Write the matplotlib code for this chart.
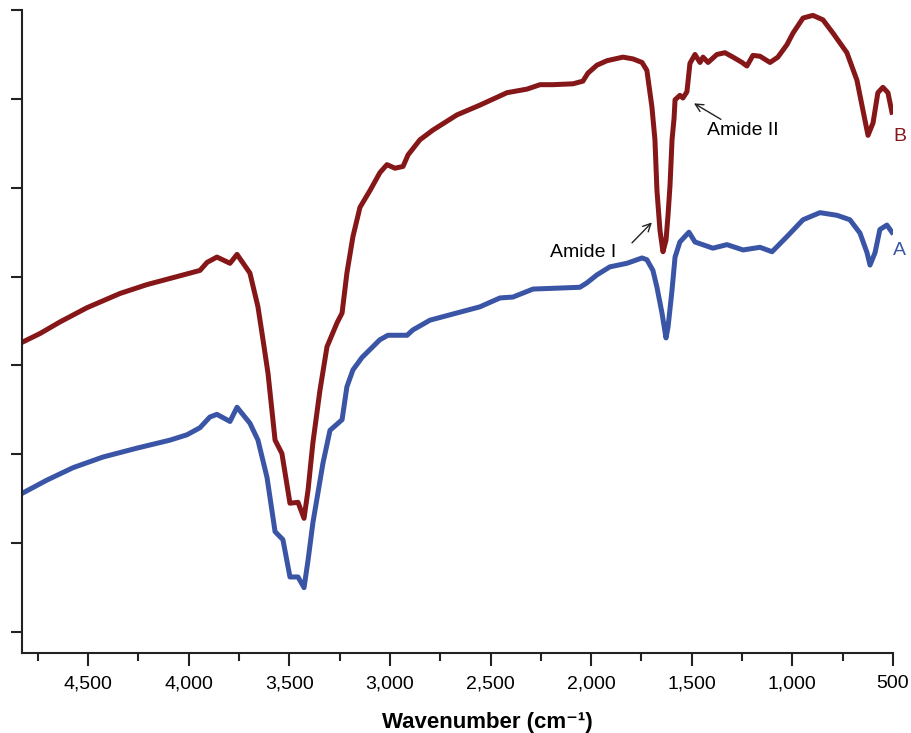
import matplotlib
matplotlib.use("Agg")
import matplotlib.pyplot as plt
from matplotlib.ticker import MultipleLocator, FuncFormatter, NullFormatter

plt.rcParams['font.family'] = ['Liberation Sans', 'DejaVu Sans']

# spectrum B (red, upper)
wn_b = [4829, 4739, 4640, 4506, 4342, 4208, 4059, 3944, 3909, 3860, 3795, 3760,
        3696, 3656, 3631, 3606, 3571, 3537, 3497, 3457, 3427, 3407, 3383, 3348,
        3313, 3263, 3238, 3214, 3184, 3149, 3099, 3050, 3015, 2975, 2935, 2910,
        2851, 2786, 2667, 2553, 2418, 2319, 2254, 2190, 2090, 2041, 2016, 1971,
        1921, 1842, 1792, 1747, 1723, 1698, 1683, 1673, 1658, 1643, 1628, 1618,
        1608, 1598, 1588, 1583, 1559, 1544, 1524, 1509, 1484, 1459, 1444, 1419,
        1375, 1335, 1295, 1250, 1226, 1196, 1161, 1111, 1072, 1027, 997, 947,
        898, 848, 798, 729, 679, 649, 624, 599, 575, 550, 525, 505]
t_b = [3.26, 3.36, 3.49, 3.65, 3.81, 3.91, 4.00, 4.07, 4.16, 4.22, 4.15, 4.25,
       4.04, 3.66, 3.29, 2.91, 2.16, 2.01, 1.45, 1.46, 1.28, 1.60, 2.13, 2.72,
       3.21, 3.48, 3.59, 4.04, 4.45, 4.78, 4.97, 5.17, 5.26, 5.22, 5.24, 5.37,
       5.54, 5.65, 5.82, 5.93, 6.07, 6.11, 6.16, 6.16, 6.17, 6.20, 6.29, 6.38,
       6.43, 6.47, 6.45, 6.41, 6.32, 5.91, 5.54, 4.97, 4.52, 4.28, 4.41, 4.69,
       5.03, 5.54, 5.78, 5.99, 6.04, 6.01, 6.08, 6.40, 6.50, 6.41, 6.47, 6.41,
       6.50, 6.52, 6.47, 6.41, 6.37, 6.49, 6.48, 6.41, 6.47, 6.61, 6.74, 6.91,
       6.94, 6.89, 6.74, 6.52, 6.21, 5.87, 5.59, 5.73, 6.07, 6.13, 6.07, 5.85]

# spectrum A (blue, lower)
wn_a = [4829, 4705, 4575, 4426, 4257, 4093, 4009, 3944, 3895, 3860, 3795, 3760,
        3696, 3656, 3611, 3571, 3532, 3497, 3457, 3427, 3407, 3383, 3333, 3298,
        3238, 3214, 3184, 3139, 3050, 3010, 2915, 2886, 2801, 2702, 2553, 2453,
        2389, 2289, 2056, 2021, 1971, 1907, 1822, 1747, 1723, 1693, 1673, 1648,
        1628, 1618, 1598, 1583, 1559, 1514, 1484, 1395, 1325, 1245, 1161, 1101,
        1027, 947, 863, 778, 714, 664, 629, 614, 589, 565, 530, 505]
t_a = [1.56, 1.71, 1.85, 1.97, 2.07, 2.16, 2.22, 2.30, 2.42, 2.45, 2.37, 2.53,
       2.35, 2.16, 1.74, 1.13, 1.04, 0.62, 0.62, 0.50, 0.81, 1.23, 1.90, 2.27,
       2.39, 2.76, 2.95, 3.09, 3.29, 3.34, 3.34, 3.40, 3.51, 3.57, 3.66, 3.76,
       3.77, 3.86, 3.88, 3.93, 4.02, 4.11, 4.15, 4.21, 4.19, 4.07, 3.88, 3.59,
       3.31, 3.43, 3.85, 4.22, 4.39, 4.50, 4.39, 4.32, 4.36, 4.30, 4.33, 4.28,
       4.45, 4.64, 4.72, 4.69, 4.64, 4.49, 4.27, 4.13, 4.27, 4.53, 4.58, 4.50]

red = '#861719'
blue = '#3b55a6'

fig = plt.figure(figsize=(9.11, 7.33), dpi=100)
ax = fig.add_axes([0.0241, 0.1091, 0.9561, 0.8772])

ax.plot(wn_b, t_b, color=red, lw=3.6, solid_joinstyle='round')
ax.plot(wn_a, t_a, color=blue, lw=3.6, solid_joinstyle='round')

ax.set_xlim(4829, 500)
ax.set_ylim(-0.236, 7.0)

for s in ['top', 'right']:
    ax.spines[s].set_visible(False)
for s in ['left', 'bottom']:
    ax.spines[s].set_linewidth(1.5)
    ax.spines[s].set_color('#222222')

ax.xaxis.set_major_locator(MultipleLocator(500))
ax.xaxis.set_minor_locator(MultipleLocator(250))
ax.xaxis.set_major_formatter(FuncFormatter(lambda v, p: f'{int(v):,}'))
ax.yaxis.set_major_locator(MultipleLocator(1))
ax.yaxis.set_major_formatter(NullFormatter())
ax.tick_params(axis='x', which='major', length=9, width=1.5, color='#222222',
               labelsize=14, pad=7)
ax.tick_params(axis='x', which='minor', length=6, width=1.5, color='#222222')
ax.tick_params(axis='y', which='major', length=8, width=1.5, color='#222222')

ax.set_xlabel('Wavenumber (cm\u207b\u00b9)', fontsize=16, fontweight='bold')
ax.xaxis.set_label_coords(0.534, -0.092)

ax.annotate('', xy=(1698, 4.61), xytext=(1797, 4.38),
            arrowprops=dict(arrowstyle='->', color='#222222', lw=1,
                            shrinkA=0, shrinkB=0, mutation_scale=14))
ax.text(2041, 4.27, 'Amide I', fontsize=14, ha='center', va='center')
ax.annotate('', xy=(1489, 5.95), xytext=(1355, 5.77),
            arrowprops=dict(arrowstyle='->', color='#222222', lw=1,
                            shrinkA=0, shrinkB=0, mutation_scale=14))
ax.text(1245, 5.65, 'Amide II', fontsize=14, ha='center', va='center')

ax.text(465, 5.58, 'B', color=red, fontsize=14, ha='center', va='center', clip_on=False)
ax.text(470, 4.29, 'A', color=blue, fontsize=14, ha='center', va='center', clip_on=False)

fig.savefig('out.png', dpi=100)
